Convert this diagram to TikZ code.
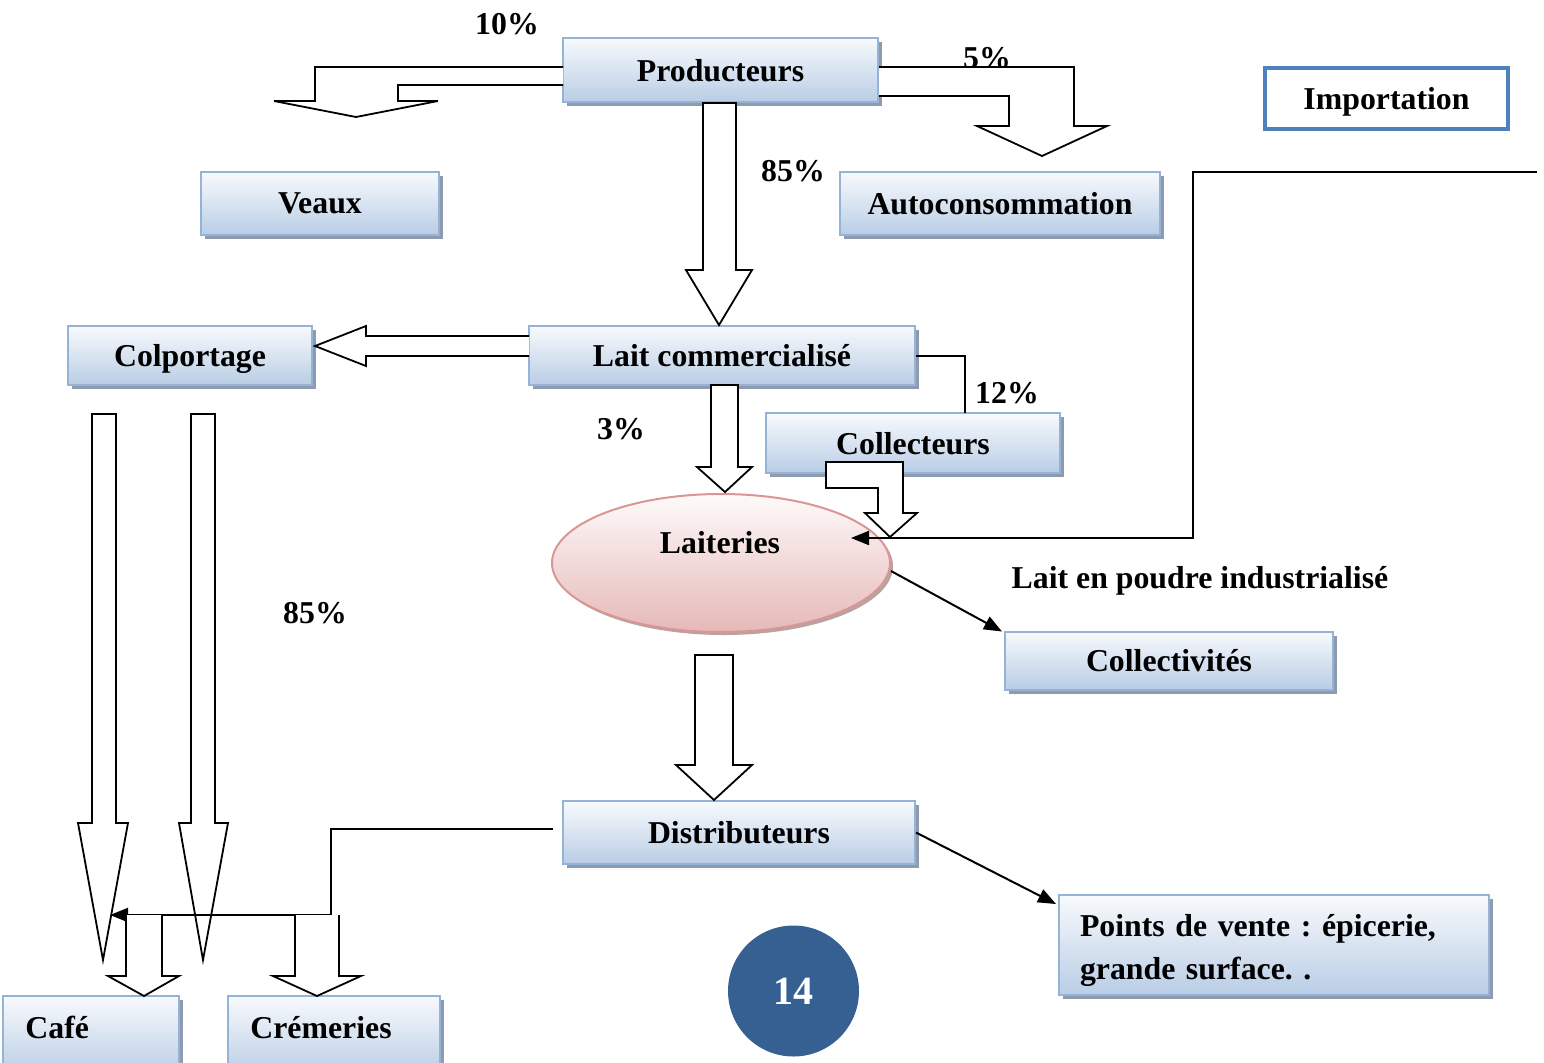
\documentclass[tikz,border=0pt]{standalone}
\usepackage{fontspec}
\setmainfont{Liberation Serif}
\usetikzlibrary{shapes.geometric,shadows,arrows.meta}
\definecolor{boxtop}{HTML}{F8FAFD}
\definecolor{boxbot}{HTML}{B9CDE5}
\definecolor{boxline}{HTML}{95B3D7}
\definecolor{boxshadow}{HTML}{8E9AAD}
\definecolor{pinktop}{HTML}{FEFAFA}
\definecolor{pinkbot}{HTML}{E6B9B8}
\definecolor{pinkline}{HTML}{D99694}
\definecolor{pinkshadow}{HTML}{B8A3A3}
\definecolor{impblue}{HTML}{4F81BD}
\definecolor{pagenum}{HTML}{376092}
\tikzset{
  lbl/.style={font=\fontsize{15.9}{19}\selectfont\bfseries\frenchspacing, inner sep=0pt, text depth=0pt},
  flowbase/.style={draw=boxline, line width=1pt, top color=boxtop, bottom color=boxbot,
    drop shadow={shadow xshift=2pt, shadow yshift=-2pt, fill=boxshadow, opacity=1},
    font=\fontsize{15.9}{19}\selectfont\bfseries\frenchspacing, inner sep=0pt},
  flowbox/.style={flowbase, text depth=0pt},
  blockarrow/.style={draw=black, fill=white, line width=0.9pt, line join=miter},
  conn/.style={draw=black, line width=1pt},
  arrowtip/.style={-{Triangle[length=9pt,width=7pt]}}
}
\begin{document}
\begin{tikzpicture}[x=0.5pt,y=-0.5pt]
\useasboundingbox (0,0) rectangle (1544,1062);

% boxes
\node[flowbox, minimum width=157.5pt, minimum height=32pt] (prod) at (720.5,70) {Producteurs};
\node[flowbox, minimum width=119pt, minimum height=31.5pt] (veaux) at (320,203.5) {Veaux};
\node[flowbox, minimum width=160pt, minimum height=31.5pt] (auto) at (1000,203.5) {Autoconsommation};
\node[draw=impblue, line width=2pt, fill=white, minimum width=121.5pt, minimum height=30.5pt,
  font=\fontsize{15.9}{19}\selectfont\bfseries, text depth=0pt, inner sep=0pt] (imp) at (1386.5,98.5) {Importation};
\node[flowbox, minimum width=122pt, minimum height=29.5pt] (colp) at (190,355.5) {Colportage};
\node[flowbox, minimum width=193pt, minimum height=29.5pt] (lait) at (722,355.5) {Lait commercialisé};
\node[flowbox, minimum width=147pt, minimum height=30pt] (coll) at (913,443) {Collecteurs};
\node[ellipse, draw=pinkline, line width=1pt, top color=pinktop, bottom color=pinkbot,
  drop shadow={shadow xshift=1.5pt, shadow yshift=-1.5pt, fill=pinkshadow, opacity=1},
  minimum width=169pt, minimum height=69pt, inner sep=0pt] (lai) at (721,563) {};
\node[lbl] (laitxt) at (720,542) {Laiteries};
\node[flowbox, minimum width=164pt, minimum height=29pt] (collect) at (1169,660.5) {Collectivités};
\node[flowbox, minimum width=176pt, minimum height=31.5pt] (distr) at (739,832.5) {Distributeurs};
\node[flowbase, minimum width=215pt, minimum height=50pt, text width=194pt, align=left,
  font=\fontsize{15.9}{21.5}\selectfont\bfseries\frenchspacing] (pdv) at (1274,945)
  {\rule{0pt}{16pt}Points de vente : épicerie,\\grande surface. .};
\node[flowbox, minimum width=88pt, minimum height=40pt] (cafe) at (91,1036) {};
\node[lbl, anchor=west] (cafetxt) at (25,1027) {Café};
\node[flowbox, minimum width=106pt, minimum height=40pt] (crem) at (334,1036) {};
\node[lbl, anchor=west] (cremtxt) at (250,1027) {Crémeries};
\node[circle, fill=pagenum, minimum size=65.5pt, inner sep=0pt, text=white,
  font=\fontsize{20}{24}\selectfont\bfseries] (pg) at (793.5,991) {14};

% labels
\node[lbl] (p10) at (507,24) {10\%};
\node[lbl] (p5) at (987,58) {5\%};
\node[lbl] (p85a) at (793,171) {85\%};
\node[lbl] (p12) at (1007,393) {12\%};
\node[lbl] (p3) at (621,429) {3\%};
\node[lbl] (p85b) at (315,613) {85\%};
\node[lbl] (poudre) at (1200,577) {Lait en poudre industrialisé};

% block arrows
\draw[blockarrow] (563,67) -- (315,67) -- (315,101) -- (274,101) -- (356,117) -- (438,101)
  -- (398,101) -- (398,85) -- (563,85);
\draw[blockarrow] (879,67) -- (1074,67) -- (1074,126) -- (1107,126) -- (1042,156) -- (977,126)
  -- (1009,126) -- (1009,96) -- (879,96);
\draw[blockarrow] (703,103) -- (736,103) -- (736,270) -- (752,270) -- (719,325) -- (686,270)
  -- (703,270) -- cycle;
\draw[blockarrow] (529,336) -- (366,336) -- (366,326) -- (315,346) -- (366,366) -- (366,356)
  -- (529,356);
\draw[blockarrow] (711,385) -- (738,385) -- (738,467) -- (752,467) -- (725,492) -- (697,467)
  -- (711,467) -- cycle;
\draw[blockarrow] (826,462) -- (903,462) -- (903,513) -- (917,513) -- (890,537) -- (865,513)
  -- (878,513) -- (878,488) -- (826,488) -- cycle;
\draw[blockarrow] (695,655) -- (733,655) -- (733,765) -- (752,765) -- (714,800) -- (676,765)
  -- (695,765) -- cycle;
\draw[blockarrow] (92,414) -- (116,414) -- (116,823) -- (128,823) -- (103,960) -- (78,823)
  -- (92,823) -- cycle;
\draw[blockarrow] (191,414) -- (215,414) -- (215,823) -- (228,823) -- (203,960) -- (179,823)
  -- (191,823) -- cycle;

% thin connectors
\coordinate (c12) at (964.5,413);
\draw[conn] (lait.east) -| (c12);
\coordinate (imp0) at (1537,172);
\coordinate (imp1) at (1193,538);
\coordinate (impend) at (851,538);
\draw[conn, arrowtip] (imp0) -| (imp1) -- (impend);
\draw[conn, arrowtip] ([yshift=-4pt]lai.east) -- ([xshift=-1pt,yshift=-0.5pt]collect.north west);
\draw[conn, arrowtip] (distr.east) -- ([xshift=-1pt,yshift=-5pt]pdv.north west);
\coordinate (d0) at (553,829);
\coordinate (d1) at (331,915);
\coordinate (d2) at (110,915);
\draw[conn, arrowtip] (d0) -| (d1) -- (d2);

% arrows to Café and Crémeries
\draw[blockarrow] (126,915) -- (126,976) -- (108,976) -- (144,996) -- (179,976) -- (162,976)
  -- (162,915);
\draw[blockarrow] (295,915) -- (295,976) -- (273,976) -- (317,996) -- (361,976) -- (339,976)
  -- (339,915);
\end{tikzpicture}
\end{document}
